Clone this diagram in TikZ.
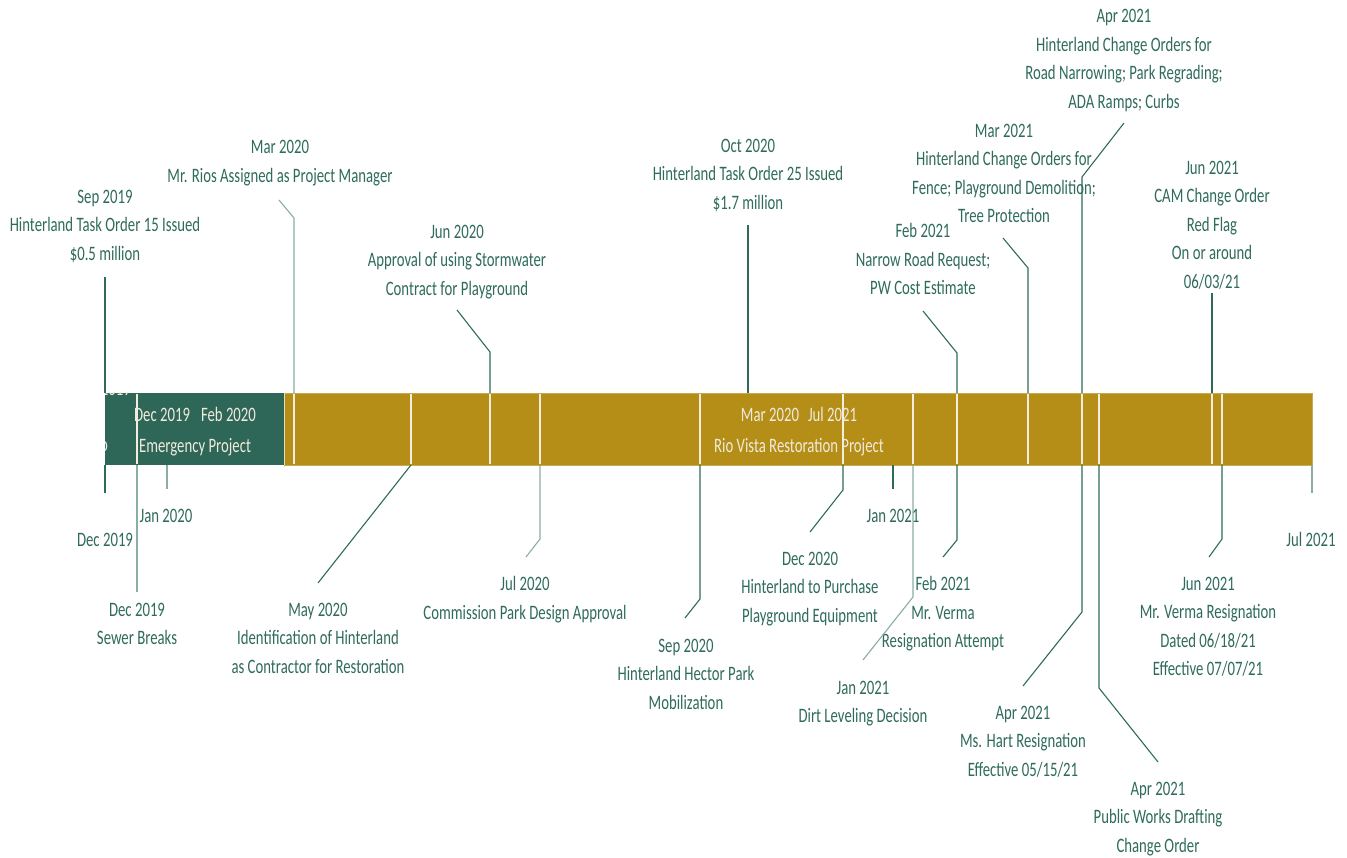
\documentclass[tikz,border=0pt]{standalone}
\usepackage{fontspec}
\setmainfont{Carlito}[FakeStretch=0.72]
\definecolor{txt}{HTML}{2F6B5C}
\definecolor{ln}{HTML}{2E6B5A}
\definecolor{lnl}{HTML}{8AADA5}
\definecolor{grn}{HTML}{2E6757}
\definecolor{gld}{HTML}{B58E17}
\definecolor{sepc}{HTML}{F3EEDD}
\definecolor{bartxt}{HTML}{EFEBDD}
\begin{document}
\begin{tikzpicture}[x=1pt,y=-1pt,
  lbl/.style={font=\fontsize{20.5}{28.5}\selectfont, text=txt, align=center, inner sep=0pt, anchor=north},
  onel/.style={font=\fontsize{20.5}{28.5}\selectfont, text=txt, inner sep=0pt, anchor=base},
  btxt/.style={font=\fontsize{20.5}{28.5}\selectfont, text=bartxt, inner sep=0pt, anchor=base},
  lead/.style={draw=ln, line width=1.1pt},
  leadl/.style={draw=lnl, line width=1.1pt},
  sepl/.style={draw=sepc, line width=1.4pt},
  barbox/.style={rectangle, inner sep=0pt, anchor=north west, minimum height=72pt}]
\useasboundingbox (0,0) rectangle (1347,858);
\fill[white] (0,0) rectangle (1347,858);

% bars
\node[barbox, fill=grn, minimum width=179pt] (green) at (105,393) {};
\node[barbox, fill=gld, draw=gld!75!white, line width=0.8pt, minimum width=1028pt] (gold) at (284,393) {};
\draw[draw=sepc!80!gld, line width=1pt] (green.north east) -- (green.south east);

% separators inside the bar
\foreach \x in {137,294,411,490,540,700,843,913,957,1028,1082,1099,1212,1222}
  \draw[sepl] (\x,393.6) -- (\x,464.4);

% clipped fragments
\begin{scope}
  \clip (105,393) rectangle (284,465);
  \node[btxt, anchor=base east] (frag1) at (131,396) {2019};
  \node[btxt] (frag2) at (104,452) {o};
\end{scope}

% bar texts
\node[btxt] (emd) at (195,421.5) {Dec 2019\hspace{11pt}Feb 2020};
\node[btxt] (emp) at (195,452.5) {Emergency Project};
\node[btxt] (rvd) at (799,421.5) {Mar 2020\hspace{9pt}Jul 2021};
\node[btxt] (rvp) at (799,452.5) {Rio Vista Restoration Project};

% ---------- labels above ----------
\node[lbl] (A1) at (105,189.5) {Sep 2019\\Hinterland Task Order 15 Issued\\\$0.5 million};
\node[lbl] (A2) at (280,140.5) {Mar 2020\\Mr. Rios Assigned as Project Manager};
\node[lbl] (A3) at (457,224.5) {Jun 2020\\Approval of using Stormwater\\Contract for Playground};
\node[lbl] (A4) at (748,138.5) {Oct 2020\\Hinterland Task Order 25 Issued\\\$1.7 million};
\node[lbl] (A5) at (923,223.5) {Feb 2021\\Narrow Road Request;\\PW Cost Estimate};
\node[lbl] (A6) at (1004,123.5) {Mar 2021\\Hinterland Change Orders for\\Fence; Playground Demolition;\\Tree Protection};
\node[lbl] (A7) at (1124,9.5) {Apr 2021\\Hinterland Change Orders for\\Road Narrowing; Park Regrading;\\ADA Ramps; Curbs};
\node[lbl] (A8) at (1212,160.5) {Jun 2021\\CAM Change Order\\Red Flag\\On or around\\06/03/21};

% ---------- axis labels ----------
\node[onel] (X1) at (105,546.5) {Dec 2019};
\node[onel] (X2) at (166,522.5) {Jan 2020};
\node[onel] (X3) at (893,522.5) {Jan 2021};
\node[onel] (X4) at (1311,546.5) {Jul 2021};

% ---------- labels below ----------
\node[lbl] (B1) at (137,602.5) {Dec 2019\\Sewer Breaks};
\node[lbl] (B2) at (318,602.5) {May 2020\\Identification of Hinterland\\as Contractor for Restoration};
\node[lbl] (B3) at (525,576.5) {Jul 2020\\Commission Park Design Approval};
\node[lbl] (B4) at (686,638.5) {Sep 2020\\Hinterland Hector Park\\Mobilization};
\node[lbl] (B5) at (810,551.5) {Dec 2020\\Hinterland to Purchase\\Playground Equipment};
\node[lbl] (B6) at (863,680.5) {Jan 2021\\Dirt Leveling Decision};
\node[lbl] (B7) at (943,576.5) {Feb 2021\\Mr. Verma\\Resignation Attempt};
\node[lbl] (B8) at (1023,705.5) {Apr 2021\\Ms. Hart Resignation\\Effective 05/15/21};
\node[lbl] (B9) at (1158,781.5) {Apr 2021\\Public Works Drafting\\Change Order};
\node[lbl] (B10) at (1208,576.5) {Jun 2021\\Mr. Verma Resignation\\Dated 06/18/21\\Effective 07/07/21};

% ---------- leader coordinates (above) ----------
\coordinate (a1b) at (105,393); \coordinate (a1e) at (105,277);
\coordinate (a2b) at (294,393); \coordinate (a2k) at (294,218); \coordinate (a2e) at (279,200);
\coordinate (a3b) at (490,393); \coordinate (a3k) at (490,352); \coordinate (a3e) at (457,310);
\coordinate (a4b) at (748,393); \coordinate (a4e) at (748,225);
\coordinate (a5b) at (957,393); \coordinate (a5k) at (957,353); \coordinate (a5e) at (923,311);
\coordinate (a6b) at (1028,393); \coordinate (a6k) at (1028,268); \coordinate (a6e) at (1003,238);
\coordinate (a7b) at (1082,393); \coordinate (a7k) at (1082,177); \coordinate (a7e) at (1124,123);
\coordinate (a8b) at (1212,393); \coordinate (a8e) at (1212,293);

\draw[lead] (a1b) -- (a1e);
\draw[leadl] (a2b) -- (a2k) -- (a2e);
\draw[lead] (a3b) -- (a3k) -- (a3e);
\draw[lead] (a4b) -- (a4e);
\draw[lead] (a5b) -- (a5k) -- (a5e);
\draw[lead] (a6b) -- (a6k) -- (a6e);
\draw[lead] (a7b) -- (a7k) -- (a7e);
\draw[lead] (a8b) -- (a8e);

% ---------- axis ticks ----------
\coordinate (t1b) at (105,465); \coordinate (t1e) at (105,493);
\coordinate (t2b) at (167,465); \coordinate (t2e) at (167,489);
\coordinate (t3b) at (893,465); \coordinate (t3e) at (893,489);
\coordinate (t4b) at (1312,465); \coordinate (t4e) at (1312,493);
\draw[lead] (t1b) -- (t1e);
\draw[leadl] (t2b) -- (t2e);
\draw[lead] (t3b) -- (t3e);
\draw[leadl] (t4b) -- (t4e);

% ---------- leader coordinates (below) ----------
\coordinate (b1b) at (137,465); \coordinate (b1e) at (137,592);
\coordinate (b2b) at (411,465); \coordinate (b2e) at (318,583);
\coordinate (b3b) at (540,465); \coordinate (b3k) at (540,539); \coordinate (b3e) at (526,557);
\coordinate (b4b) at (700,465); \coordinate (b4k) at (700,599); \coordinate (b4e) at (685,618);
\coordinate (b5b) at (843,465); \coordinate (b5k) at (843,490); \coordinate (b5e) at (810,532);
\coordinate (b6b) at (913,465); \coordinate (b6k) at (913,597); \coordinate (b6e) at (863,660);
\coordinate (b7b) at (957,465); \coordinate (b7k) at (957,540); \coordinate (b7e) at (943,557);
\coordinate (b8b) at (1082,465); \coordinate (b8k) at (1082,612); \coordinate (b8e) at (1023,686);
\coordinate (b9b) at (1099,465); \coordinate (b9k) at (1099,688); \coordinate (b9e) at (1158,762);
\coordinate (b10b) at (1222,465); \coordinate (b10k) at (1222,539); \coordinate (b10e) at (1209,557);

\draw[leadl] (b1b) -- (b1e);
\draw[lead] (b2b) -- (b2e);
\draw[leadl] (b3b) -- (b3k) -- (b3e);
\draw[lead] (b4b) -- (b4k) -- (b4e);
\draw[lead] (b5b) -- (b5k) -- (b5e);
\draw[leadl] (b6b) -- (b6k) -- (b6e);
\draw[lead] (b7b) -- (b7k) -- (b7e);
\draw[lead] (b8b) -- (b8k) -- (b8e);
\draw[lead] (b9b) -- (b9k) -- (b9e);
\draw[lead] (b10b) -- (b10k) -- (b10e);
\end{tikzpicture}
\end{document}
